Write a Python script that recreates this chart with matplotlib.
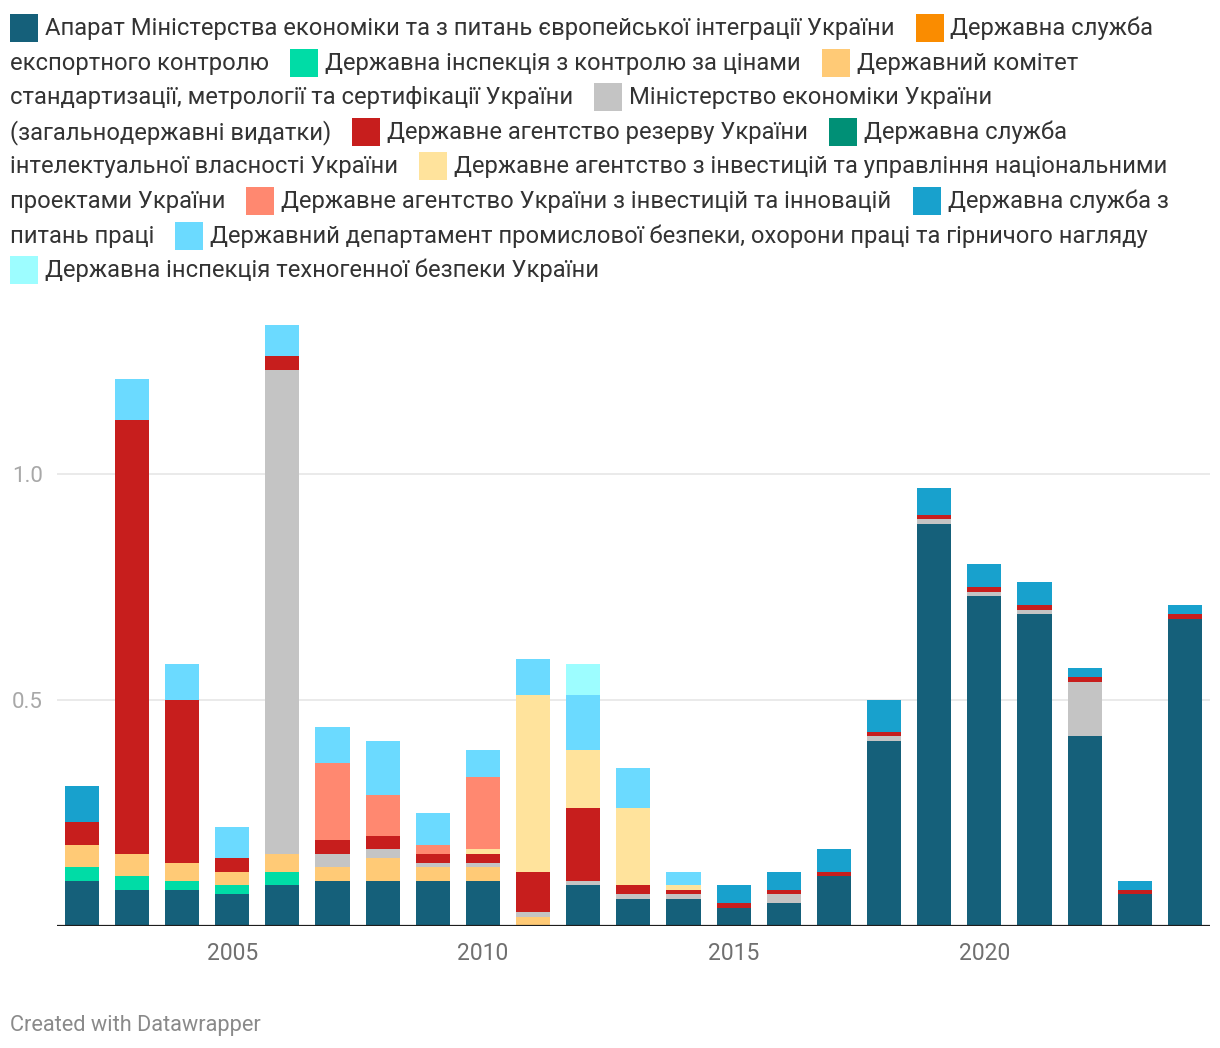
import matplotlib
matplotlib.use("Agg")
import matplotlib.pyplot as plt
from matplotlib.patches import Rectangle
import numpy as np

# ---------------- data ----------------
years = list(range(2002, 2025))

labels = [
    "Апарат Міністерства економіки та з питань європейської інтеграції України",
    "Державна служба експортного контролю",
    "Державна інспекція з контролю за цінами",
    "Державний комітет стандартизації, метрології та сертифікації України",
    "Міністерство економіки України (загальнодержавні видатки)",
    "Державне агентство резерву України",
    "Державна служба інтелектуальної власності України",
    "Державне агентство з інвестицій та управління національними проектами України",
    "Державне агентство України з інвестицій та інновацій",
    "Державна служба з питань праці",
    "Державний департамент промислової безпеки, охорони праці та гірничого нагляду",
    "Державна інспекція техногенної безпеки України",
]

colors = ["#15607a", "#fa8c00", "#00dca6", "#ffca76", "#c4c4c4", "#c71e1d",
          "#009076", "#ffe39c", "#ff8870", "#18a1cd", "#6bdaff", "#9dfdff"]

#                 2002  2003  2004  2005  2006  2007  2008  2009  2010  2011  2012  2013  2014  2015  2016  2017  2018  2019  2020  2021  2022  2023  2024
aparat          = [0.10, 0.08, 0.08, 0.07, 0.09, 0.10, 0.10, 0.10, 0.10, 0.00, 0.09, 0.06, 0.06, 0.04, 0.05, 0.11, 0.41, 0.89, 0.73, 0.69, 0.42, 0.07, 0.68]
export_control  = [0.00] * 23
price_inspect   = [0.03, 0.03, 0.02, 0.02, 0.03, 0.00, 0.00, 0.00, 0.00, 0.00, 0.00, 0.00, 0.00, 0.00, 0.00, 0.00, 0.00, 0.00, 0.00, 0.00, 0.00, 0.00, 0.00]
standards       = [0.05, 0.05, 0.04, 0.03, 0.04, 0.03, 0.05, 0.03, 0.03, 0.02, 0.00, 0.00, 0.00, 0.00, 0.00, 0.00, 0.00, 0.00, 0.00, 0.00, 0.00, 0.00, 0.00]
ministry        = [0.00, 0.00, 0.00, 0.00, 1.07, 0.03, 0.02, 0.01, 0.01, 0.01, 0.01, 0.01, 0.01, 0.00, 0.02, 0.00, 0.01, 0.01, 0.01, 0.01, 0.12, 0.00, 0.00]
reserve         = [0.05, 0.96, 0.36, 0.03, 0.03, 0.03, 0.03, 0.02, 0.02, 0.09, 0.16, 0.02, 0.01, 0.01, 0.01, 0.01, 0.01, 0.01, 0.01, 0.01, 0.01, 0.01, 0.01]
ip_service      = [0.00] * 23
invest_projects = [0.00, 0.00, 0.00, 0.00, 0.00, 0.00, 0.00, 0.00, 0.01, 0.39, 0.13, 0.17, 0.01, 0.00, 0.00, 0.00, 0.00, 0.00, 0.00, 0.00, 0.00, 0.00, 0.00]
invest_innov    = [0.00, 0.00, 0.00, 0.00, 0.00, 0.17, 0.09, 0.02, 0.16, 0.00, 0.00, 0.00, 0.00, 0.00, 0.00, 0.00, 0.00, 0.00, 0.00, 0.00, 0.00, 0.00, 0.00]
labor_service   = [0.08, 0.00, 0.00, 0.00, 0.00, 0.00, 0.00, 0.00, 0.00, 0.00, 0.00, 0.00, 0.00, 0.04, 0.04, 0.05, 0.07, 0.06, 0.05, 0.05, 0.02, 0.02, 0.02]
industrial_safe = [0.00, 0.09, 0.08, 0.07, 0.07, 0.08, 0.12, 0.07, 0.06, 0.08, 0.12, 0.09, 0.03, 0.00, 0.00, 0.00, 0.00, 0.00, 0.00, 0.00, 0.00, 0.00, 0.00]
techno_safe     = [0.00, 0.00, 0.00, 0.00, 0.00, 0.00, 0.00, 0.00, 0.00, 0.00, 0.07, 0.00, 0.00, 0.00, 0.00, 0.00, 0.00, 0.00, 0.00, 0.00, 0.00, 0.00, 0.00]

series = [aparat, export_control, price_inspect, standards, ministry, reserve,
          ip_service, invest_projects, invest_innov, labor_service,
          industrial_safe, techno_safe]

x_ticks = [2005, 2010, 2015, 2020]
y_ticks = [0.5, 1.0]
y_tick_labels = ["0.5", "1.0"]

# ---------------- figure ----------------
W, H = 1220, 1048
FONT = ["Roboto", "DejaVu Sans"]
plt.rcParams["font.family"] = FONT
fig = plt.figure(figsize=(W / 100, H / 100), dpi=100)
renderer = fig.canvas.get_renderer()

ax_left, ax_right, ax_bottom, ax_top = 56.7, 1210, 926, 320
ax = fig.add_axes([ax_left / W, (H - ax_bottom) / H,
                   (ax_right - ax_left) / W, (ax_bottom - ax_top) / H])

bottom = np.zeros(len(years))
for vals, col in zip(series, colors):
    v = np.array(vals)
    ax.bar(years, v, bottom=bottom, width=0.68, color=col, linewidth=0, zorder=2)
    bottom += v

ax.set_xlim(2001.5, 2024.5)
ax.set_ylim(0, (ax_bottom - ax_top) / 452.0)
for s in ax.spines.values():
    s.set_visible(False)
ax.axhline(0, color="#1d1d1d", lw=1.6, zorder=3)
ax.set_yticks(y_ticks)
ax.set_yticklabels(y_tick_labels)
ax.set_xticks(x_ticks)
ax.set_xticklabels([str(t) for t in x_ticks])
ax.tick_params(axis="y", length=0, pad=10, labelsize=16, labelcolor="#a8a8a8")
ax.tick_params(axis="x", length=0, pad=11.5, labelsize=16.5, labelcolor="#707070")
ax.grid(axis="y", color="#e6e6e6", lw=1.2, zorder=0)
ax.set_axisbelow(True)


def text_width(s, size):
    t = fig.text(0, 0, s, fontsize=size)
    w = t.get_window_extent(renderer).width
    t.remove()
    return w


# ---------------- legend (flowing, Datawrapper style) ----------------
leg_size = 16 * 847.0 / text_width(labels[0], 16)
SQ = 28
SQ_GAP = 7
ITEM_GAP = 21
LINE_H = 34.6
X0 = 10
MAXX = 1212
y = 27.0
x = X0


def put_text(s, px, cy):
    fig.text(px / W, 1 - cy / H, s, fontsize=leg_size, color="#333333",
             ha="left", va="center_baseline")


for i, (lab, col) in enumerate(zip(labels, colors)):
    words = lab.split(" ")
    if x > X0:
        x += ITEM_GAP
    w0 = text_width(words[0], leg_size)
    if x + SQ + SQ_GAP + w0 > MAXX:
        x = X0
        y += LINE_H
    fig.add_artist(Rectangle((x / W, 1 - (y + SQ / 2 + 1) / H), SQ / W, SQ / H,
                             transform=fig.transFigure, color=col, lw=0))
    x += SQ + SQ_GAP
    seg = words[0]
    seg_x = x
    for wd in words[1:]:
        cand = seg + " " + wd
        if seg_x + text_width(cand, leg_size) > MAXX:
            put_text(seg, seg_x, y - 1)
            y += LINE_H
            seg_x = X0
            seg = wd
        else:
            seg = cand
    put_text(seg, seg_x, y - 1)
    x = seg_x + text_width(seg, leg_size)

# ---------------- footer ----------------
foot_size = 14 * 252.0 / text_width("Created with Datawrapper", 14)
fig.text(10 / W, 1 - 1026 / H, "Created with Datawrapper", fontsize=foot_size,
         color="#8a8a8a", ha="left", va="center")

fig.savefig("out.png", dpi=100, facecolor="white")
